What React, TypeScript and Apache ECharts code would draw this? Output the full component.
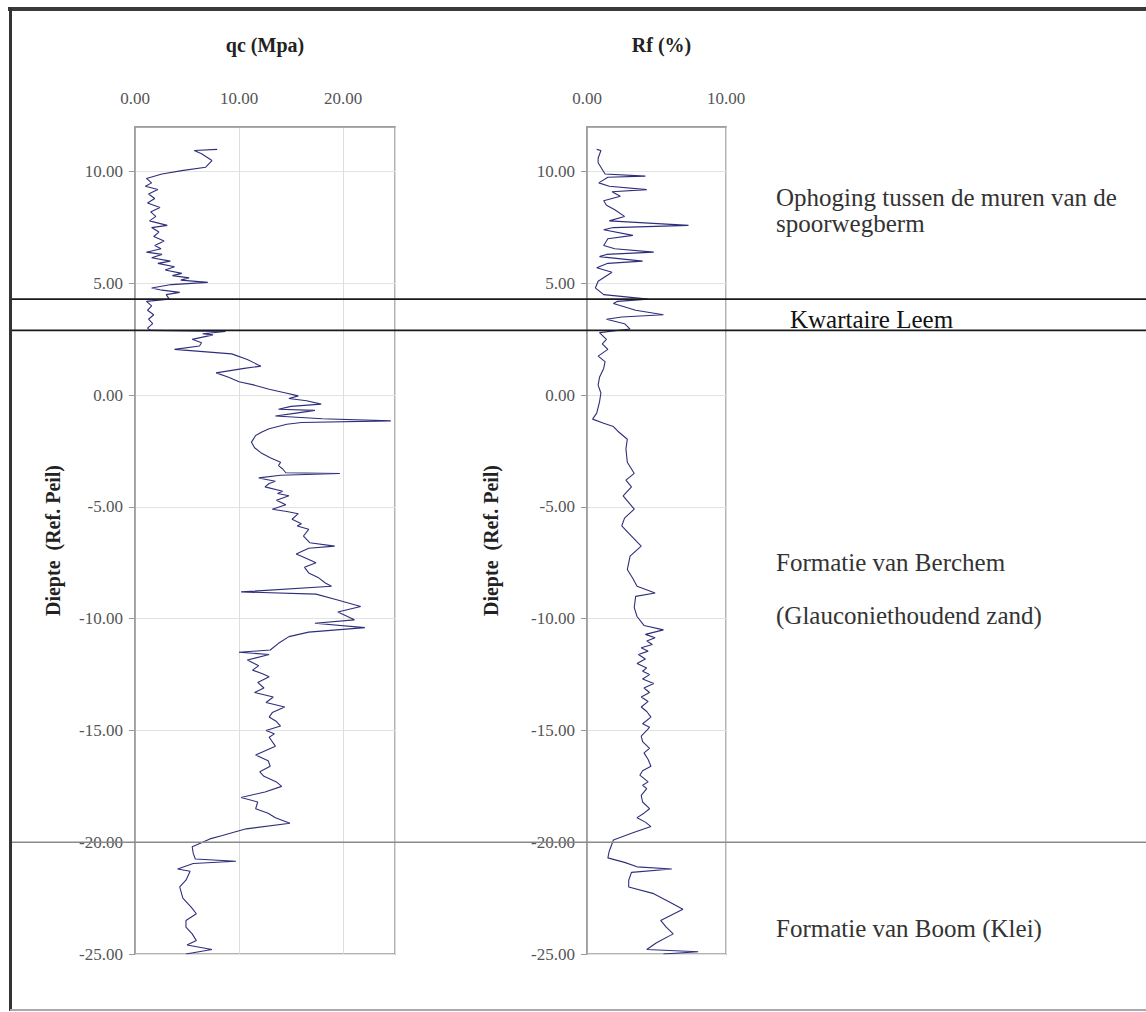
import React, { useEffect, useRef } from "react";
import * as echarts from "echarts";

// qc (MPa) vs depth: [value, depth]
const qcData: [number, number][] = [
  [7.9, 11.0], [5.7, 10.95], [6.4, 10.8], [7.4, 10.5], [6.8, 10.2], [4.5, 10.05], [2.6, 9.9], [1.1, 9.7],
  [1.6, 9.5], [1.0, 9.35], [2.2, 9.2], [1.3, 9.0], [1.9, 8.8], [1.2, 8.6], [2.4, 8.4], [1.5, 8.2],
  [2.0, 8.0], [1.4, 7.8], [3.1, 7.6], [1.6, 7.5], [2.3, 7.3], [1.8, 7.1], [2.8, 6.9], [1.9, 6.7],
  [2.5, 6.55], [1.1, 6.4], [2.6, 6.3], [1.6, 6.15], [3.4, 6.0], [2.2, 5.9], [3.8, 5.75], [2.9, 5.6],
  [4.5, 5.45], [3.6, 5.35], [5.2, 5.25], [4.4, 5.15], [7.0, 5.05], [3.5, 4.95], [1.6, 4.8], [2.6, 4.7],
  [4.3, 4.6], [3.0, 4.5], [3.3, 4.3], [1.1, 4.2], [1.6, 4.0], [1.2, 3.8], [1.8, 3.6], [1.3, 3.4],
  [1.7, 3.2], [1.2, 3.0], [1.5, 2.9], [8.7, 2.85], [6.5, 2.75], [7.5, 2.7], [5.5, 2.5], [6.4, 2.35],
  [6.2, 2.2], [3.8, 2.05], [9.3, 1.85], [10.8, 1.6], [12.1, 1.3], [10.5, 1.2], [7.8, 1.0], [9.0, 0.8],
  [10.0, 0.6], [11.5, 0.45], [12.9, 0.27], [14.5, 0.1], [15.7, -0.03], [14.8, -0.15], [16.5, -0.25], [17.9, -0.4],
  [15.0, -0.5], [13.8, -0.63], [17.3, -0.68], [15.5, -0.8], [13.5, -0.93], [18.0, -1.05], [24.6, -1.15], [16.0, -1.22],
  [14.6, -1.3], [12.9, -1.5], [12.2, -1.65], [11.6, -1.8], [11.2, -2.1], [11.5, -2.35], [12.1, -2.57], [12.6, -2.7],
  [13.0, -2.8], [14.0, -3.0], [13.8, -3.15], [14.2, -3.3], [14.5, -3.47], [19.7, -3.5], [14.0, -3.58], [11.9, -3.7],
  [13.5, -3.85], [12.9, -3.95], [12.5, -4.1], [14.2, -4.3], [13.7, -4.4], [14.8, -4.5], [13.6, -4.7], [14.5, -4.9],
  [13.2, -5.1], [14.6, -5.2], [15.7, -5.3], [15.1, -5.55], [16.0, -5.75], [15.6, -5.85], [16.7, -6.0], [16.2, -6.3],
  [16.8, -6.6], [19.2, -6.75], [16.7, -6.85], [15.5, -7.1], [16.5, -7.3], [17.4, -7.5], [16.3, -7.7], [16.7, -7.95],
  [17.6, -8.15], [18.3, -8.4], [18.9, -8.55], [10.2, -8.8], [17.4, -8.9], [19.4, -9.15], [21.7, -9.45], [19.5, -9.7],
  [21.1, -10.05], [17.3, -10.2], [22.1, -10.4], [16.7, -10.6], [14.8, -10.8], [13.8, -11.1], [13.0, -11.4], [10.0, -11.5],
  [12.9, -11.6], [10.8, -11.85], [11.9, -12.1], [11.3, -12.3], [12.2, -12.45], [12.9, -12.6], [11.8, -12.85], [12.4, -13.1],
  [11.5, -13.3], [13.3, -13.5], [12.6, -13.75], [14.4, -13.95], [13.2, -14.2], [12.9, -14.4], [13.6, -14.6], [14.0, -14.8],
  [12.6, -15.0], [13.4, -15.15], [12.9, -15.3], [13.5, -15.7], [11.6, -16.1], [12.8, -16.35], [13.0, -16.6], [12.0, -16.85],
  [12.4, -17.05], [13.6, -17.3], [14.1, -17.5], [12.5, -17.75], [10.2, -18.0], [11.8, -18.2], [11.6, -18.5], [12.8, -18.7],
  [13.5, -18.9], [14.9, -19.15], [10.7, -19.4], [9.5, -19.55], [8.4, -19.7], [7.2, -19.85], [6.5, -20.0], [5.5, -20.2],
  [5.6, -20.5], [5.8, -20.75], [9.7, -20.85], [5.6, -20.95], [4.1, -21.2], [5.3, -21.3], [4.9, -21.7], [4.3, -22.0],
  [4.6, -22.5], [5.4, -22.9], [5.9, -23.2], [4.9, -23.5], [4.9, -23.8], [5.5, -24.1], [5.9, -24.4], [5.0, -24.6],
  [7.4, -24.8], [4.9, -25.0],
];

// Rf (%) vs depth: [value, depth]
const rfData: [number, number][] = [
  [0.7, 11.0], [1.0, 10.95], [0.8, 10.6], [0.8, 10.4], [1.3, 9.9], [4.2, 9.8], [1.5, 9.75], [0.85, 9.5],
  [1.6, 9.35], [4.3, 9.2], [1.8, 9.1], [2.4, 8.9], [1.2, 8.7], [1.4, 8.5], [2.0, 8.3], [2.7, 8.0],
  [1.6, 7.8], [7.3, 7.6], [1.9, 7.5], [1.2, 7.4], [3.3, 7.15], [1.5, 7.0], [1.2, 6.7], [2.0, 6.55],
  [4.8, 6.4], [1.4, 6.3], [0.9, 6.2], [4.0, 6.0], [1.5, 5.9], [0.7, 5.7], [1.8, 5.5], [1.3, 5.3],
  [0.8, 5.1], [0.6, 4.8], [1.2, 4.5], [4.4, 4.3], [2.2, 4.2], [1.9, 4.1], [3.5, 3.8], [5.5, 3.6],
  [2.5, 3.5], [1.4, 3.4], [2.7, 3.2], [3.1, 2.96], [0.9, 2.8], [1.4, 2.5], [1.1, 2.3], [1.5, 2.05],
  [0.8, 1.75], [1.3, 1.5], [1.2, 1.2], [0.9, 0.8], [0.8, 0.45], [1.0, 0.1], [0.9, -0.3], [0.7, -0.8],
  [0.4, -1.07], [1.2, -1.25], [1.9, -1.4], [2.2, -1.6], [2.9, -1.97], [2.8, -2.4], [2.9, -3.0], [3.4, -3.5],
  [2.8, -3.8], [3.2, -4.1], [2.6, -4.5], [3.4, -5.1], [2.7, -5.5], [2.5, -5.85], [3.2, -6.3], [3.9, -6.75],
  [3.1, -7.2], [2.9, -7.8], [3.3, -8.2], [3.6, -8.55], [4.9, -8.85], [3.5, -9.0], [3.4, -9.5], [3.6, -9.9],
  [4.1, -10.3], [5.5, -10.5], [4.2, -10.7], [4.9, -10.85], [4.3, -11.0], [4.7, -11.15], [3.9, -11.3], [4.4, -11.45],
  [3.7, -11.6], [4.2, -11.8], [3.6, -12.0], [4.3, -12.2], [4.0, -12.35], [4.5, -12.5], [4.0, -12.7], [4.8, -12.9],
  [4.1, -13.1], [4.5, -13.3], [3.9, -13.5], [4.4, -13.7], [3.9, -13.95], [4.3, -14.15], [4.6, -14.4], [4.0, -14.7],
  [4.5, -14.85], [4.3, -15.0], [3.9, -15.25], [4.0, -15.5], [4.5, -15.8], [4.1, -16.0], [4.4, -16.3], [4.6, -16.6],
  [4.0, -16.8], [3.8, -17.0], [4.4, -17.3], [4.0, -17.45], [4.3, -17.6], [3.9, -17.9], [4.0, -18.2], [4.5, -18.5],
  [4.1, -18.7], [3.6, -18.9], [4.2, -19.1], [4.6, -19.3], [3.2, -19.6], [1.9, -19.9], [1.6, -20.4], [1.5, -20.7],
  [2.7, -20.9], [3.6, -21.1], [6.1, -21.2], [3.2, -21.35], [3.0, -21.7], [3.0, -22.0], [4.8, -22.3], [6.0, -22.7],
  [6.9, -23.0], [5.3, -23.5], [5.7, -23.8], [6.2, -24.1], [5.0, -24.5], [4.3, -24.8], [8.0, -24.9], [5.5, -25.0],
];

const depthRange = [-25, 12];
const qcRange = [0, 25];
const rfRange = [0, 10];
const layerBoundaries = [4.3, 2.9];
const formationBoundary = [-20];

const layerTexts = [
  { text: "Ophoging tussen de muren van de", y: 197 },
  { text: "spoorwegberm", y: 223 },
  { text: "Formatie van Berchem", y: 562 },
  { text: "(Glauconiethoudend zand)", y: 615 },
  { text: "Formatie van Boom (Klei)", y: 928 },
];

const SERIF = "Liberation Serif";
const LINE_COLOR = "#2e2e7c";

function valueAxisX(gridIndex: number, range: number[], showMax: boolean) {
  return {
    type: "value",
    gridIndex,
    position: "top",
    min: range[0],
    max: range[1],
    interval: 10,
    axisLine: { show: true, onZero: false, lineStyle: { color: "#999", width: 1.5 } },
    axisTick: { show: false },
    axisLabel: {
      showMaxLabel: showMax,
      margin: 20,
      fontFamily: SERIF,
      fontSize: 17,
      color: "#555",
      formatter: (v: number) => v.toFixed(2),
    },
    splitLine: { show: true, lineStyle: { color: "#ddd", width: 1 } },
  };
}

function valueAxisY(gridIndex: number, nameGap: number) {
  return {
    type: "value",
    gridIndex,
    min: depthRange[0],
    max: depthRange[1],
    interval: 5,
    name: "Diepte  (Ref. Peil)",
    nameLocation: "middle",
    nameRotate: 90,
    nameGap,
    nameTextStyle: { fontFamily: SERIF, fontSize: 20, fontWeight: "bold", color: "#222" },
    axisLine: { show: true, onZero: false, lineStyle: { color: "#999", width: 1.5 } },
    axisTick: { show: true, inside: false, length: 6, lineStyle: { color: "#999" } },
    axisLabel: {
      showMaxLabel: false,
      margin: 12,
      fontFamily: SERIF,
      fontSize: 17,
      color: "#555",
      formatter: (v: number) => v.toFixed(2),
    },
    splitLine: { show: true, lineStyle: { color: "#e2e2e2", width: 1 } },
  };
}

export default function App() {
  const ref = useRef<HTMLDivElement>(null);

  useEffect(() => {
    document.body.style.margin = "0";
    if (!ref.current) return;
    const chart = echarts.init(ref.current, null, { renderer: "svg" });

    const base: any = {
      animation: false,
      backgroundColor: "#fff",
      textStyle: { fontFamily: SERIF },
      grid: [
        { left: 135, top: 127, width: 260, height: 827, show: true, borderColor: "#999", borderWidth: 1.5 },
        { left: 587, top: 127, width: 139, height: 827, show: true, borderColor: "#999", borderWidth: 1.5 },
      ],
      xAxis: [valueAxisX(0, qcRange, false), valueAxisX(1, rfRange, true)],
      yAxis: [valueAxisY(0, 72), valueAxisY(1, 86)],
      series: [
        {
          type: "line",
          xAxisIndex: 0,
          yAxisIndex: 0,
          data: qcData,
          showSymbol: false,
          lineStyle: { color: LINE_COLOR, width: 1.1 },
          itemStyle: { color: LINE_COLOR },
        },
        {
          type: "line",
          xAxisIndex: 1,
          yAxisIndex: 1,
          data: rfData,
          showSymbol: false,
          lineStyle: { color: LINE_COLOR, width: 1.1 },
          itemStyle: { color: LINE_COLOR },
        },
      ],
    };
    chart.setOption(base);

    const yPix = (d: number) => chart.convertToPixel({ yAxisIndex: 0 }, d) as number;
    const x0 = chart.convertToPixel({ xAxisIndex: 0 }, qcRange[0]) as number;
    const x1 = chart.convertToPixel({ xAxisIndex: 0 }, qcRange[1]) as number;
    const r0 = chart.convertToPixel({ xAxisIndex: 1 }, rfRange[0]) as number;
    const r1 = chart.convertToPixel({ xAxisIndex: 1 }, rfRange[1]) as number;

    const graphics: any[] = [];
    graphics.push({ type: "line", shape: { x1: 8, y1: 9, x2: 1146, y2: 9 }, style: { stroke: "#3a3a3a", lineWidth: 4 }, z: 10 });
    graphics.push({ type: "line", shape: { x1: 10.5, y1: 7, x2: 10.5, y2: 1011 }, style: { stroke: "#333", lineWidth: 3 }, z: 10 });
    graphics.push({ type: "line", shape: { x1: 10, y1: 1010, x2: 1146, y2: 1010 }, style: { stroke: "#aaa", lineWidth: 2 }, z: 10 });

    layerBoundaries.forEach((d) => {
      const y = yPix(d);
      graphics.push({ type: "line", shape: { x1: 10, y1: y, x2: 1146, y2: y }, style: { stroke: "#1a1a1a", lineWidth: 1.6 }, z: 5 });
    });
    formationBoundary.forEach((d) => {
      const y = yPix(d);
      graphics.push({ type: "line", shape: { x1: 10, y1: y, x2: 1146, y2: y }, style: { stroke: "#8a8a8a", lineWidth: 1.4 }, z: 5 });
    });

    graphics.push({
      type: "text", x: (x0 + x1) / 2, y: 45,
      style: { text: "qc (Mpa)", font: `bold 20px "${SERIF}"`, fill: "#222", align: "center", verticalAlign: "middle" },
    });
    graphics.push({
      type: "text", x: (r0 + r1) / 2 + 5, y: 45,
      style: { text: "Rf (%)", font: `bold 20px "${SERIF}"`, fill: "#222", align: "center", verticalAlign: "middle" },
    });

    layerTexts.forEach((t) => {
      graphics.push({
        type: "text", x: 776, y: t.y,
        style: { text: t.text, font: `25px "${SERIF}"`, fill: "#333", align: "left", verticalAlign: "middle" },
      });
    });
    graphics.push({
      type: "text", x: 790, y: 319,
      style: { text: "Kwartaire Leem", font: `25px "${SERIF}"`, fill: "#111", align: "left", verticalAlign: "middle" },
    });

    chart.setOption({ graphic: graphics });

    return () => chart.dispose();
  }, []);

  return <div ref={ref} style={{ width: 1146, height: 1012 }} />;
}
